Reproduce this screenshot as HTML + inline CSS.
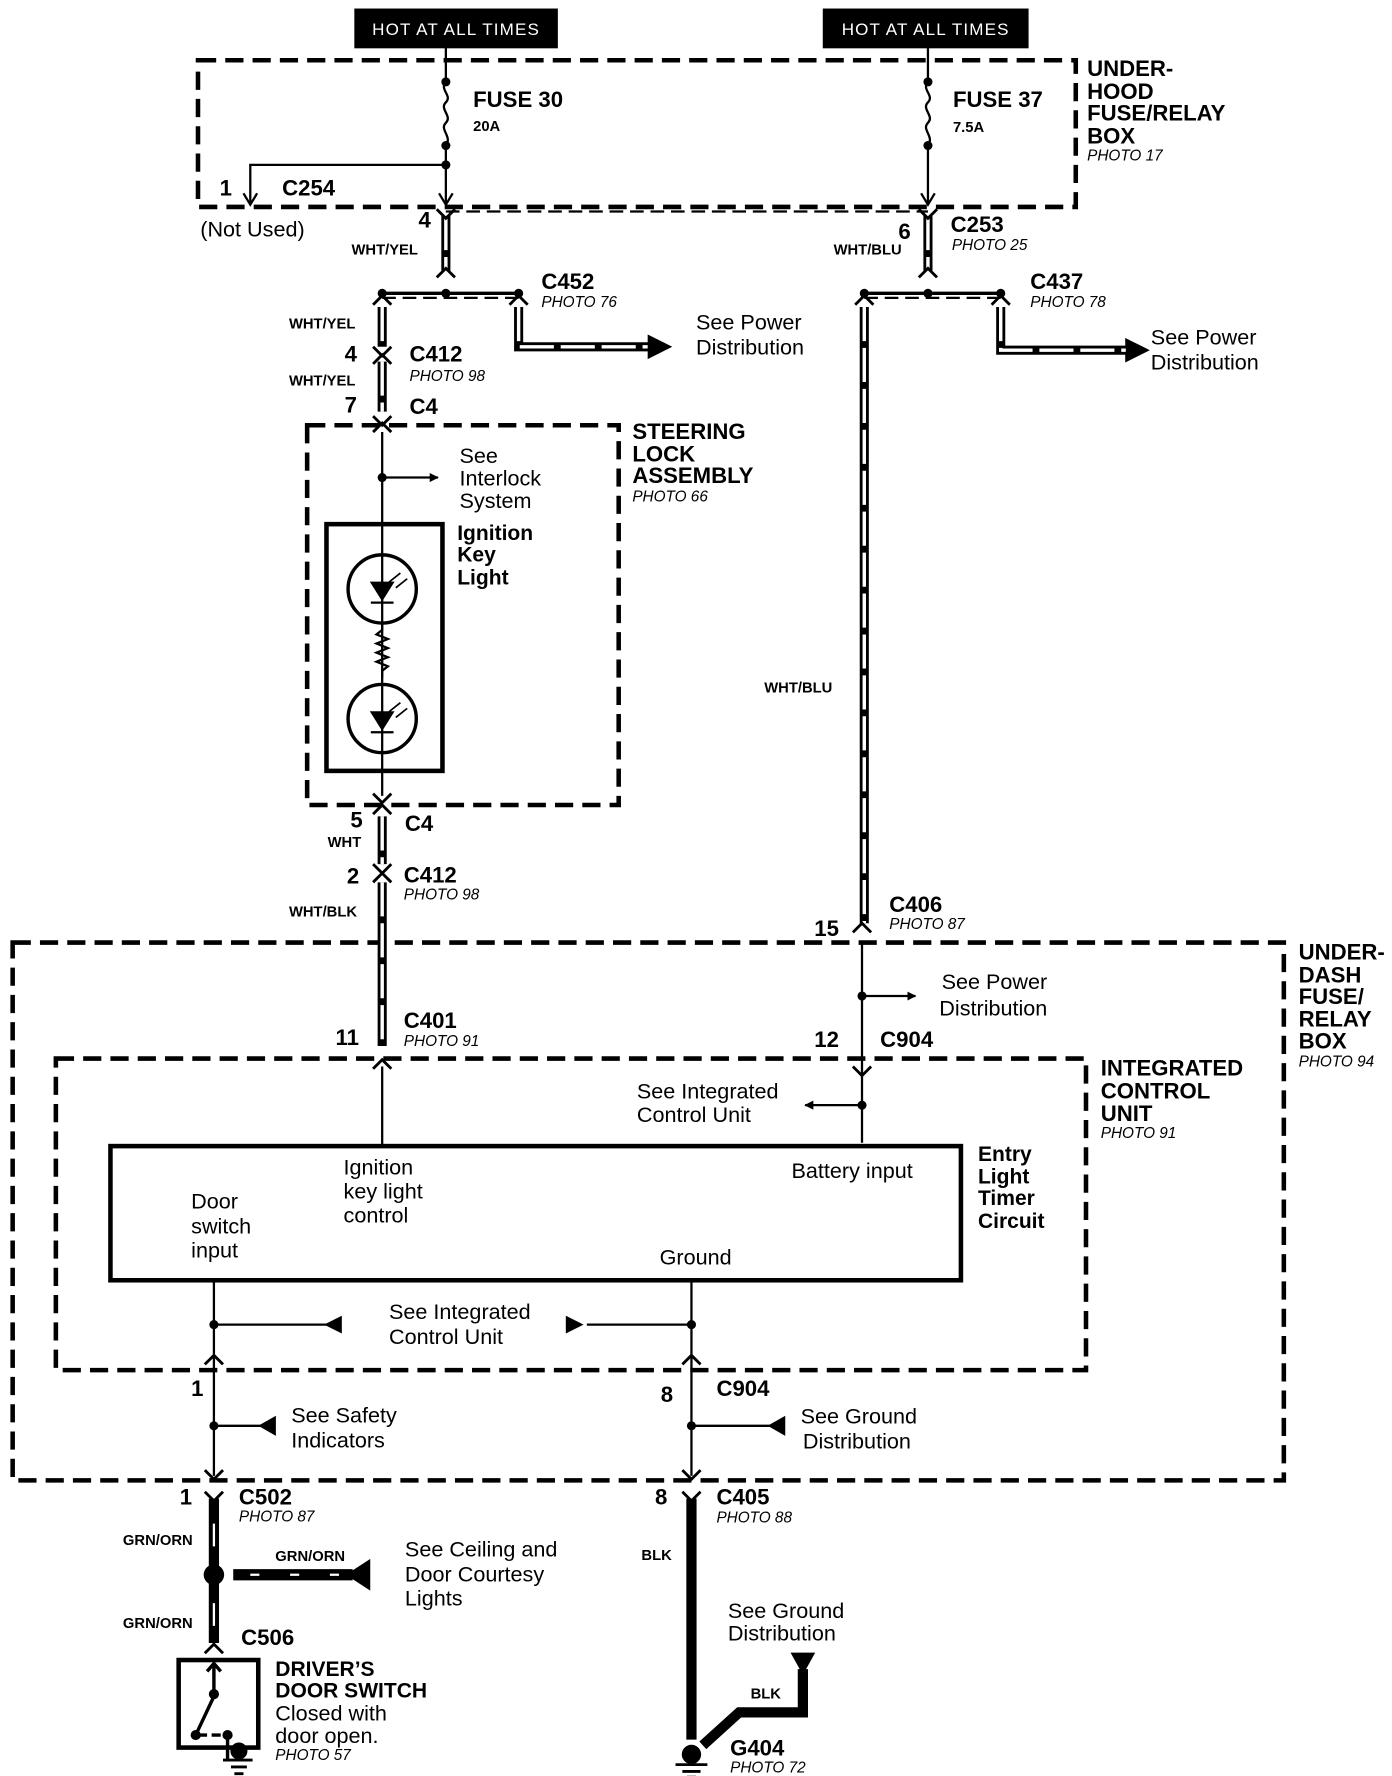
<!DOCTYPE html>
<html><head><meta charset="utf-8"><style>
html,body{margin:0;padding:0;background:#fff}
svg{display:block}
text{font-family:"Liberation Sans",sans-serif;fill:#000}
.b{font-weight:bold}
.i{font-style:italic;font-size:13.5px}
</style></head><body>
<svg width="1392" height="1776" viewBox="0 0 1224 1562" xmlns="http://www.w3.org/2000/svg">
<defs>
<marker id="ar" viewBox="0 0 10 10" refX="9" refY="5" markerWidth="4" markerHeight="4" orient="auto"><path d="M0,0L10,5L0,10z" fill="#000"/></marker>
</defs>
<g fill="none" stroke="#000">
<rect x="312" y="8" width="178" height="34" fill="#000"/>
<rect x="724" y="8" width="180" height="34" fill="#000"/>
<rect x="174" y="53" width="772" height="129" stroke-width="4" stroke-dasharray="16,8"/>
<rect x="270" y="374" width="274" height="334" stroke-width="4" stroke-dasharray="16,8"/>
<rect x="11" y="829" width="1118" height="473" stroke-width="4" stroke-dasharray="16,8"/>
<rect x="49" y="931" width="906" height="274" stroke-width="4" stroke-dasharray="16,8"/>
<path d="M392,186H816" stroke-width="2" stroke-dasharray="12,6"/>
<path d="M336,262H456M760,262H880" stroke-width="2" stroke-dasharray="12,6"/>
<path d="M392,42V72M392,128V178M816,42V72M816,128V178" stroke-width="2"/>
<path d="M392,72c-6,7 6,12 0,18s6,12 0,18s6,12 0,20M816,72c-6,7 6,12 0,18s6,12 0,18s6,12 0,20" stroke-width="2"/>
<path d="M392,145H220V178" stroke-width="2"/>
<path d="M214,170l6,10l6,-10M386,170l6,10l6,-10M810,170l6,10l6,-10" stroke-width="2"/>
<g stroke-width="8">
<path d="M392,190V238M816,190V238M336,270V305M336,318V362M456,270V305H580M760,270V812M336,718V760M336,776V920"/>
</g>
<g stroke="#fff" stroke-width="3">
<path d="M392,190V238M816,190V238M336,270V305M336,318V362M456,270V305H580M760,270V812M336,718V760M336,776V920" stroke-dasharray="30,6"/>
</g>
<path d="M570,295L590,305L570,315z M990,298L1010,308L990,318z" fill="#000"/>
<path d="M880,270V308H990" stroke-width="8"/><path d="M880,270V308H990" stroke="#fff" stroke-width="3" stroke-dasharray="30,6"/>
<g stroke-width="2.5">
<path d="M384,184l8,8l8,-8M384,244l8,-8l8,8M808,184l8,8l8,-8M808,244l8,-8l8,8"/>
<path d="M328,268l8,-8l8,8M448,268l8,-8l8,8M752,268l8,-8l8,8M872,268l8,-8l8,8"/>
<path d="M328,305l8,8l8,-8M328,320l8,-8l8,8M328,366l8,8l8,-8M328,380l8,-8l8,8"/>
<path d="M328,698l8,8l8,-8M328,716l8,-8l8,8M328,760l8,8l8,-8M328,776l8,-8l8,8"/>
<path d="M750,820l8,-8l8,8M328,940l8,-8l8,8M750,938l8,8l8,-8"/>
<path d="M180,1200l8,-8l8,8M600,1200l8,-8l8,8M180,1293l8,8l8,-8M600,1293l8,8l8,-8"/>
<path d="M180,1312l8,8l8,-8M600,1312l8,8l8,-8M180,1454l8,-8l8,8"/>
</g>
<path d="M336,258H456M760,258H880" stroke-width="3"/>
<path d="M336,380V700" stroke-width="2"/>
<path d="M336,420H385" stroke-width="2" marker-end="url(#ar)"/>
<rect x="287" y="461" width="102" height="217" stroke-width="4"/>
<circle cx="336" cy="518" r="30" stroke-width="3"/>
<circle cx="336" cy="632" r="30" stroke-width="3"/>
<path d="M336,548v6l-5,4l10,4l-10,4l10,4l-10,4l10,4l-10,4l10,4l-5,4v6" stroke-width="2"/>
<path d="M326,512h20l-10,16z M326,626h20l-10,16z" fill="#000" stroke-width="1"/>
<path d="M326,530h20M326,644h20" stroke-width="2"/>
<path d="M342,512l10,-8M348,517l10,-8M342,626l10,-8M348,631l10,-8" stroke-width="1.5"/>
<path d="M758,828V1005" stroke-width="2"/>
<path d="M758,876H805" stroke-width="2" marker-end="url(#ar)"/>
<path d="M758,972H708" stroke-width="2" marker-end="url(#ar)"/>
<path d="M336,938V1007" stroke-width="2"/>
<rect x="97" y="1008" width="748" height="118" stroke-width="4"/>
<path d="M188,1126V1298M608,1126V1298" stroke-width="2"/>
<path d="M188,1165H290M516,1165H608M188,1254H232M608,1254H684" stroke-width="2"/>
<path d="M300,1158L286,1165L300,1172z M498,1158L512,1165L498,1172z M242,1246L228,1254L242,1262z M690,1246L676,1254L690,1262z" fill="#000" stroke-width="1"/>
<path d="M188,1318V1445" stroke-width="9"/>
<path d="M188,1340V1360M188,1410V1430" stroke="#fff" stroke-width="2"/>
<path d="M205,1385H310" stroke-width="10"/>
<path d="M220,1385h8M255,1385h8M290,1385h8" stroke="#fff" stroke-width="2"/>
<path d="M325,1372L305,1385L325,1398z" fill="#000" stroke-width="1"/>
<path d="M608,1318V1530" stroke-width="9"/>
<path d="M618,1535L650,1506H706V1468" stroke-width="9"/>
<path d="M696,1454h20l-10,18z" fill="#000" stroke-width="1"/>
<rect x="157" y="1460" width="70" height="77" stroke-width="4"/>
<path d="M188,1488V1464M182,1470l6,-7l6,7M188,1492L172,1526M172,1526h10M186,1526h8" stroke-width="3"/>
<circle cx="188" cy="1490" r="4" fill="#000"/><circle cx="172" cy="1526" r="4" fill="#000"/><circle cx="200" cy="1526" r="4" fill="#000"/>
<path d="M200,1526V1548" stroke-width="3"/>
<path d="M196,1548h26M203,1554h14M206,1560h8" stroke-width="2.5"/>
<circle cx="210" cy="1540" r="7" fill="#000"/>
<circle cx="608" cy="1543" r="8" fill="#000"/>
<path d="M594,1552h28M600,1558h16M604,1563h8" stroke-width="2.5"/>
</g>
<g fill="#000">
<circle cx="392" cy="72" r="4"/><circle cx="392" cy="128" r="4"/><circle cx="392" cy="145" r="4"/>
<circle cx="816" cy="72" r="4"/><circle cx="816" cy="128" r="4"/>
<circle cx="336" cy="258" r="4"/><circle cx="392" cy="258" r="4"/><circle cx="456" cy="258" r="4"/>
<circle cx="760" cy="258" r="4"/><circle cx="816" cy="258" r="4"/><circle cx="880" cy="258" r="4"/>
<circle cx="336" cy="420" r="4"/><circle cx="758" cy="876" r="4"/><circle cx="758" cy="972" r="4"/>
<circle cx="188" cy="1165" r="4"/><circle cx="608" cy="1165" r="4"/><circle cx="188" cy="1254" r="4"/><circle cx="608" cy="1254" r="4"/>
<circle cx="188" cy="1385" r="9"/>
</g>
<text x="401" y="31" font-size="15" style="fill:#fff" text-anchor="middle" letter-spacing="1">HOT AT ALL TIMES</text>
<text x="814" y="31" font-size="15" style="fill:#fff" text-anchor="middle" letter-spacing="1">HOT AT ALL TIMES</text>
<g class="b" font-size="19.5">
<text x="416" y="94">FUSE 30</text><text x="838" y="94">FUSE 37</text>
<text x="956" y="67">UNDER-</text><text x="956" y="87">HOOD</text><text x="956" y="106">FUSE/RELAY</text><text x="956" y="126">BOX</text>
<text x="248" y="172">C254</text><text x="193" y="172">1</text>
<text x="476" y="254">C452</text><text x="906" y="254">C437</text><text x="836" y="204">C253</text>
<text x="360" y="318">C412</text><text x="360" y="364">C4</text>
<text x="556" y="386">STEERING</text><text x="556" y="406">LOCK</text><text x="556" y="425">ASSEMBLY</text>
<text x="356" y="731">C4</text><text x="355" y="776">C412</text><text x="782" y="802">C406</text>
<text x="355" y="904">C401</text><text x="774" y="921">C904</text>
<text x="968" y="946">INTEGRATED</text><text x="968" y="966">CONTROL</text><text x="968" y="986">UNIT</text>
<text x="1142" y="844">UNDER-</text><text x="1142" y="864">DASH</text><text x="1142" y="883">FUSE/</text><text x="1142" y="903">RELAY</text><text x="1142" y="922">BOX</text>
<text x="630" y="1228">C904</text><text x="210" y="1323">C502</text><text x="630" y="1323">C405</text><text x="212" y="1447">C506</text>
<text x="642" y="1544">G404</text>
<text x="368" y="200">4</text><text x="790" y="210">6</text><text x="303" y="318">4</text><text x="303" y="363">7</text>
<text x="308" y="728">5</text><text x="305" y="777">2</text><text x="716" y="823">15</text><text x="295" y="919">11</text><text x="716" y="921">12</text>
<text x="168" y="1228">1</text><text x="581" y="1233">8</text><text x="158" y="1323">1</text><text x="576" y="1323">8</text>
</g>
<g class="b" font-size="18.5">
<text x="402" y="475">Ignition</text><text x="402" y="494">Key</text><text x="402" y="514">Light</text>
<text x="860" y="1021">Entry</text><text x="860" y="1041">Light</text><text x="860" y="1060">Timer</text><text x="860" y="1080">Circuit</text>
<text x="242" y="1474">DRIVER’S</text><text x="242" y="1493">DOOR SWITCH</text>
</g>
<g class="b" font-size="13">
<text x="416" y="115">20A</text><text x="838" y="116">7.5A</text>
<text x="309" y="224">WHT/YEL</text><text x="733" y="224">WHT/BLU</text>
<text x="254" y="289">WHT/YEL</text><text x="254" y="339">WHT/YEL</text>
<text x="672" y="609">WHT/BLU</text><text x="288" y="745">WHT</text><text x="254" y="806">WHT/BLK</text>
<text x="108" y="1359">GRN/ORN</text><text x="242" y="1373">GRN/ORN</text><text x="108" y="1432">GRN/ORN</text>
<text x="564" y="1372">BLK</text><text x="660" y="1494">BLK</text>
</g>
<g class="i">
<text x="956" y="141">PHOTO 17</text><text x="837" y="220">PHOTO 25</text><text x="476" y="270">PHOTO 76</text><text x="906" y="270">PHOTO 78</text>
<text x="360" y="335">PHOTO 98</text><text x="556" y="441">PHOTO 66</text><text x="355" y="791">PHOTO 98</text><text x="782" y="817">PHOTO 87</text>
<text x="355" y="920">PHOTO 91</text><text x="968" y="1001">PHOTO 91</text><text x="1142" y="938">PHOTO 94</text>
<text x="210" y="1338">PHOTO 87</text><text x="630" y="1339">PHOTO 88</text><text x="242" y="1548">PHOTO 57</text><text x="642" y="1559">PHOTO 72</text>
</g>
<g font-size="19">
<text x="176" y="208">(Not Used)</text>
<text x="612" y="290">See Power</text><text x="612" y="312">Distribution</text>
<text x="1012" y="303">See Power</text><text x="1012" y="325">Distribution</text>
<text x="404" y="407">See</text><text x="404" y="427">Interlock</text><text x="404" y="447">System</text>
<text x="828" y="870">See Power</text><text x="826" y="893">Distribution</text>
<text x="560" y="966">See Integrated</text><text x="560" y="987">Control Unit</text>
<text x="302" y="1033">Ignition</text><text x="302" y="1054">key light</text><text x="302" y="1075">control</text>
<text x="696" y="1036">Battery input</text>
<text x="168" y="1063">Door</text><text x="168" y="1085">switch</text><text x="168" y="1106">input</text>
<text x="580" y="1112">Ground</text>
<text x="342" y="1160">See  Integrated</text><text x="342" y="1182">Control Unit</text>
<text x="256" y="1251">See Safety</text><text x="256" y="1273">Indicators</text>
<text x="704" y="1252">See Ground</text><text x="706" y="1274">Distribution</text>
<text x="356" y="1369">See Ceiling and</text><text x="356" y="1391">Door Courtesy</text><text x="356" y="1412">Lights</text>
<text x="640" y="1423">See Ground</text><text x="640" y="1443">Distribution</text>
<text x="242" y="1513">Closed with</text><text x="242" y="1533">door open.</text>
</g>
</svg>
</body></html>
